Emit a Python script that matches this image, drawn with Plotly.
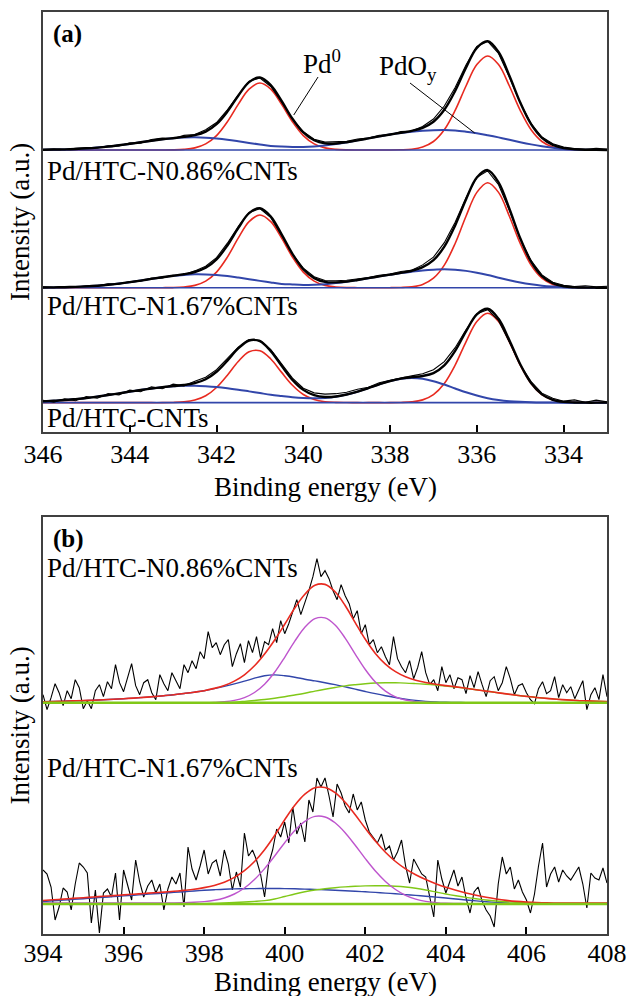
import numpy as np
import plotly.graph_objects as go

# ---------------- Panel (a): Pd 3d ----------------
a_energy = np.round(np.arange(346.0, 332.99, -0.25), 2)  # 53 points, 346 -> 333 eV

a_top_red = [0, 0, 0, 0, 0, 0, 0, 0, 0, 0, 0, 0, 0.1, 0.6, 2.1, 6.1, 14.4, 28.2, 45.6, 60.8, 67, 60.8, 45.6, 28.2,
             14.4, 6.1, 2.1, 0.6, 0.1, 0, 0, 0, 0, 0.2, 0.8, 3.0, 8.5, 20.2, 39.6, 64.0, 85.4, 94, 85.4, 64.0, 39.6,
             20.2, 8.5, 3.0, 0.8, 0.2, 0, 0, 0]
a_top_blue = [0.2, 0.4, 0.6, 1.0, 1.6, 2.4, 3.4, 4.7, 6.1, 7.7, 9.3, 10.7, 11.8, 12.5, 12.7, 12.3, 11.4, 10.2, 8.7,
              7.1, 5.5, 4.1, 3.4, 3.0, 3.1, 3.6, 4.5, 5.9, 7.7, 9.6, 11.6, 13.6, 15.5, 17.0, 18.3, 19.2, 19.8, 20.0,
              19.5, 18.3, 16.8, 14.8, 12.6, 10.2, 7.8, 5.6, 3.7, 2.2, 1.1, 0.5, 0.2, 0.1, 0]
a_top_raw = [0.5, 1.2, 0.3, 1.8, 2.5, 2.0, 4.2, 4.0, 7.3, 6.8, 10.5, 11.9, 11.2, 14.6, 15.5, 20.2, 27.5, 40.1, 55.0,
             68.8, 72.0, 63.5, 47.8, 31.0, 18.2, 10.8, 7.9, 8.2, 8.6, 11.0, 11.9, 14.8, 15.2, 18.4, 19.0, 23.5, 31.0,
             44.0, 62.5, 85.0, 103.5, 108.5, 96.5, 72.8, 47.0, 26.5, 13.0, 6.2, 2.9, 1.5, 0.8, 1.6, 0.9]

a_mid_red = [0, 0, 0, 0, 0, 0, 0, 0, 0, 0, 0, 0, 0.1, 0.7, 2.3, 6.6, 15.6, 30.6, 49.5, 66.0, 72.7, 66.0, 49.5, 30.6,
             15.6, 6.6, 2.3, 0.7, 0.1, 0, 0, 0, 0, 0.2, 0.9, 3.3, 9.5, 22.6, 44.2, 71.5, 95.3, 105, 95.3, 71.5, 44.2,
             22.6, 9.5, 3.3, 0.9, 0.2, 0, 0, 0]
a_mid_blue = [0.2, 0.3, 0.5, 0.8, 1.3, 2.0, 2.9, 4.1, 5.5, 7.1, 8.8, 10.4, 11.8, 12.8, 13.4, 13.3, 12.7, 11.6, 10.1,
              8.5, 6.8, 5.2, 3.8, 3.2, 2.8, 3.0, 3.5, 4.6, 6.0, 7.7, 9.5, 11.3, 13.0, 14.6, 16.0, 17.2, 18.0, 18.4,
              18.0, 16.8, 14.9, 12.6, 10.0, 7.5, 5.2, 3.4, 2.0, 1.1, 0.5, 0.2, 0.1, 0, 0]
a_mid_raw = [0.8, 0.1, 1.2, 0.5, 2.0, 1.6, 3.8, 3.5, 6.2, 6.5, 9.6, 9.8, 12.5, 13.0, 16.8, 21.5, 30.0, 44.5, 61.0,
             75.2, 79.0, 70.0, 52.0, 33.5, 19.5, 11.0, 7.2, 6.9, 7.5, 9.0, 10.2, 12.5, 13.6, 16.2, 17.5, 22.8, 30.5,
             45.0, 65.5, 90.0, 110.5, 116.8, 103.0, 77.5, 49.0, 27.0, 12.8, 5.5, 2.5, 1.2, 2.0, 0.8, 1.5]

a_bot_red = [0, 0, 0, 0, 0, 0, 0, 0, 0, 0, 0, 0, 0.2, 0.8, 2.6, 6.9, 15.2, 27.5, 41.2, 50.9, 51.9, 43.7, 30.3, 17.4,
             8.2, 3.2, 1.0, 0.3, 0.1, 0, 0, 0, 0, 0.2, 0.8, 2.8, 8.1, 19.2, 37.6, 60.9, 81.2, 89.4, 81.2, 60.9, 37.6,
             19.2, 8.1, 2.8, 0.8, 0.2, 0, 0, 0]
a_bot_blue = [1.3, 1.9, 2.6, 3.6, 4.7, 6.1, 7.6, 9.3, 11.0, 12.7, 14.2, 15.5, 16.4, 16.9, 17.0, 16.5, 15.7, 14.5,
              13.0, 11.3, 9.6, 7.9, 6.6, 5.4, 4.6, 4.3, 4.7, 5.9, 8.1, 11.0, 14.6, 18.3, 21.6, 23.9, 24.7, 23.9,
              21.5, 18.1, 14.2, 10.4, 7.1, 4.5, 2.7, 1.5, 0.8, 0.4, 0.2, 0.1, 0, 0, 0, 0, 0]
a_bot_raw = [2.5, 0.5, 3.8, 1.9, 6.0, 4.5, 9.0, 7.8, 12.5, 11.0, 15.8, 14.0, 18.5, 16.8, 21.5, 25.5, 33.0, 44.5,
             55.5, 63.0, 62.5, 53.0, 38.5, 24.5, 14.5, 9.8, 8.5, 9.0, 10.5, 13.5, 15.5, 20.0, 22.5, 25.0, 26.8,
             29.0, 33.0, 41.0, 55.0, 73.0, 89.0, 93.0, 82.0, 60.5, 38.0, 21.0, 9.5, 4.5, 1.5, 2.8, 0.5, 2.5, 0.8]

a_labels = ["Pd/HTC-N0.86%CNTs", "Pd/HTC-N1.67%CNTs", "Pd/HTC-CNTs"]
a_ticks = [346, 344, 342, 340, 338, 336, 334]

# ---------------- Panel (b): N 1s ----------------
b_fit_energy = np.round(np.arange(394.0, 408.01, 0.25), 2)   # 57 points
b_raw_energy = np.round(np.arange(394.0, 408.001, 0.1), 2)   # 141 points

b_top_raw = [8, -7, 5, 19, 10, -3, 12, 4, 23, 15,
             -6, 2, -6, 12, 18, 6, 21, 14, 38, 20,
             11, 26, 39, 17, 8, 20, 23, 10, 3, 28,
             19, 12, 30, 22, 14, 38, 30, 42, 34, 51,
             44, 71, 55, 60, 48, 58, 63, 36, 49, 59,
             40, 62, 50, 66, 45, 61, 58, 74, 60, 82,
             69, 79, 92, 103, 88, 99, 112, 126, 144, 126,
             132, 124, 112, 103, 118, 107, 99, 84, 92, 69,
             78, 58, 63, 50, 56, 46, 38, 66, 44, 36,
             30, 42, 24, 35, 51, 30, 18, 23, 12, 36,
             20, 28, 14, 25, 23, 9, 27, 15, 31, 18,
             6, 22, 26, 12, 20, 36, 24, 8, 17, 19,
             10, 3, -1, 14, 21, 9, 12, 26, 5, 18,
             10, 16, 4, 13, 22, -7, 8, 15, 3, 28,
             6]
b_top_mag = [0, 0, 0, 0, 0, 0, 0, 0, 0, 0, 0, 0, 0, 0, 0, 0, 0, 0.3, 0.9, 2.3, 5.1, 10.2, 18.5, 30.4, 45.4, 61.5,
             75.4, 84.0, 84.8, 77.7, 64.6, 48.6, 33.2, 20.6, 11.6, 5.9, 2.7, 1.1, 0.4, 0.1, 0, 0, 0, 0, 0, 0, 0, 0, 0,
             0, 0, 0, 0, 0, 0, 0, 0]
b_top_blue = [1.0, 1.2, 1.5, 1.8, 2.1, 2.5, 2.9, 3.4, 4.0, 4.6, 5.3, 6.1, 7.0, 8.0, 9.2, 10.5, 12.0, 14.0, 16.3,
              18.8, 21.5, 24.5, 27.0, 27.8, 27.0, 25.5, 23.5, 21.8, 20.0, 18.0, 15.8, 13.5, 11.2, 9.0, 7.0, 5.2, 3.6,
              2.3, 1.3, 0.7, 0.4, 0.2, 0.1, 0, 0, 0, 0, 0, 0, 0, 0, 0, 0, 0, 0, 0, 0]
b_top_green = [0, 0, 0, 0, 0, 0, 0, 0, 0, 0, 0, 0, 0, 0, 0, 0, 0, 0, 0, 0.5, 1.3, 2.2, 3.2, 4.5, 6.0, 7.7, 9.5, 11.6,
               13.5, 15.2, 16.8, 18.0, 19.0, 19.7, 20.0, 19.9, 19.6, 19.1, 18.5, 17.7, 16.7, 15.6, 14.4, 13.0, 11.6,
               10.2, 8.8, 7.5, 6.3, 5.2, 4.3, 3.5, 2.8, 2.2, 1.8, 1.4, 1.1]

b_bot_raw = [34, 30, 17, -16, -3, 16, 12, -6, 20, 41,
             37, 31, -19, 14, -29, 11, 15, 7, 31, -16,
             34, 18, 4, 44, 22, 7, 18, 24, 11, 20,
             -6, 15, 27, 20, 31, -3, 57, 35, 24, 38,
             54, 30, 41, 44, 28, 54, 40, 14, 32, 17,
             71, 48, 54, 44, 30, 7, 40, 54, 75, 67,
             82, 61, 97, 70, 81, 62, 104, 92, 126, 117,
             126, 108, 87, 120, 111, 98, 91, 110, 94, 102,
             84, 72, 67, 61, 70, 54, 58, 44, 52, 64,
             38, 21, 45, 37, 30, 27, 8, -13, 44, 25,
             11, 22, 34, 18, 27, 6, -9, 12, 17, 3,
             -6, -12, -23, 20, 47, 30, 37, 15, 24, 12,
             4, -9, 10, 38, 61, 17, 30, 37, 22, 34,
             28, 24, 31, 37, 20, -4, 31, 26, 24, 36,
             21]
b_bot_mag = [1.0, 1.0, 1.0, 1.0, 1.0, 1.0, 1.0, 1.0, 1.0, 1.0, 1.0, 1.0, 1.0, 1.1, 1.3, 1.7, 2.4, 3.7, 6.0, 10.0,
             16.0, 24.5, 35.4, 48.0, 61.3, 73.5, 82.7, 87.6, 87.0, 81.2, 71.3, 58.7, 45.4, 33.0, 22.6, 14.5, 8.7,
             4.9, 2.6, 1.4, 0.7, 0.5, 0.4, 0.4, 0.4, 0.4, 0.4, 0.4, 0.4, 0.4, 0.4, 0.4, 0.4, 0.4, 0.4, 0.4, 0.4]
b_bot_blue = [2.5, 3.2, 3.9, 4.6, 5.3, 6.0, 6.7, 7.4, 8.1, 8.8, 9.5, 10.2, 10.9, 11.6, 12.3, 13.0, 13.7, 14.3, 14.8,
              15.1, 15.3, 15.4, 15.5, 15.5, 15.4, 15.2, 14.9, 14.6, 14.2, 13.8, 13.3, 12.8, 12.2, 11.6, 10.9, 10.2,
              9.4, 8.6, 7.8, 6.9, 6.0, 5.0, 4.0, 3.1, 2.3, 1.6, 1.0, 0.6, 0.3, 0.1, 0, 0, 0, 0, 0, 0, 0]
b_bot_green = [0, 0, 0, 0, 0, 0, 0, 0, 0, 0, 0, 0, 0, 0, 0, 0, 0.3, 0.6, 1.0, 1.5, 2.0, 2.6, 3.4, 5.0, 7.5, 10.0,
               12.2, 14.0, 15.3, 16.3, 17.1, 17.7, 18.1, 18.3, 18.2, 17.8, 17.0, 15.7, 14.0, 12.0, 10.0, 8.2, 6.6,
               5.2, 4.0, 3.0, 2.2, 1.6, 1.2, 0.9, 0.7, 0.6, 0.5, 0.5, 0.5, 0.5, 0.5]

b_labels = ["Pd/HTC-N0.86%CNTs", "Pd/HTC-N1.67%CNTs"]
b_ticks = [394, 396, 398, 400, 402, 404, 406, 408]

# ---------------- styling / layout constants ----------------
A_OFFSETS = [282.0, 144.3, 29.3]      # vertical stacking of the three Pd 3d spectra
B_OFFSETS = [231.3, 30.0]             # vertical stacking of the two N 1s spectra
RED = "rgb(232,42,32)"
BLUE = "rgb(50,70,170)"
MAG = "rgb(190,85,205)"
GREEN = "rgb(128,200,24)"
FONT = "Liberation Serif, Times New Roman, serif"

fig = go.Figure()


def add(x, y, color, width, xa, ya, shape="linear"):
    fig.add_trace(go.Scatter(x=list(x), y=list(y), mode="lines",
                             line=dict(color=color, width=width, shape=shape),
                             xaxis=xa, yaxis=ya, showlegend=False, hoverinfo="skip"))


a_sets = [(a_top_red, a_top_blue, a_top_raw), (a_mid_red, a_mid_blue, a_mid_raw), (a_bot_red, a_bot_blue, a_bot_raw)]
for off, (red, blue, raw) in zip(A_OFFSETS, a_sets):
    red = np.array(red, float)
    blue = np.array(blue, float)
    raw = np.array(raw, float)
    add(a_energy, off + red, RED, 1.6, "x", "y", "spline")
    add(a_energy, off + blue, BLUE, 2.0, "x", "y", "spline")
    add([a_energy[0], a_energy[-1]], [off, off], BLUE, 1.6, "x", "y")
    add(a_energy, off + raw, "black", 1.1, "x", "y")
    add(a_energy, off + red + blue, "black", 2.4, "x", "y", "spline")

b_sets = [(b_top_raw, b_top_mag, b_top_blue, b_top_green), (b_bot_raw, b_bot_mag, b_bot_blue, b_bot_green)]
for off, (raw, mag, blue, green) in zip(B_OFFSETS, b_sets):
    raw = np.array(raw, float)
    mag = np.array(mag, float)
    blue = np.array(blue, float)
    green = np.array(green, float)
    add(b_raw_energy, off + raw, "black", 1.1, "x2", "y2")
    add(b_fit_energy, off + blue, BLUE, 1.4, "x2", "y2", "spline")
    add(b_fit_energy, off + green, GREEN, 1.4, "x2", "y2", "spline")
    add(b_fit_energy, off + mag, MAG, 1.4, "x2", "y2", "spline")
    add(b_fit_energy, off + mag + blue + green, RED, 1.6, "x2", "y2", "spline")
    add([b_fit_energy[0], b_fit_energy[-1]], [off, off], GREEN, 2.4, "x2", "y2")

axis_common = dict(showline=True, mirror=True, linecolor="#404040", linewidth=2,
                   showgrid=False, zeroline=False, automargin=False)
xcommon = dict(axis_common, ticks="inside", ticklen=7, tickwidth=1.5, tickcolor="black",
               tickfont=dict(family=FONT, size=26, color="black"))
ycommon = dict(axis_common, showticklabels=False, ticks="")

fig.update_layout(
    width=629, height=996, autosize=False,
    margin=dict(l=43, r=22, t=12, b=62, autoexpand=False),
    paper_bgcolor="white", plot_bgcolor="white",
    font=dict(family=FONT, color="black"),
    xaxis=dict(xcommon, domain=[0, 1], anchor="y", range=[346, 333], tickvals=a_ticks, ticklabelstandoff=-2),
    yaxis=dict(ycommon, domain=[0.5445, 1.0], anchor="x", range=[0, 420]),
    xaxis2=dict(xcommon, domain=[0, 1], anchor="y2", range=[394, 408], tickvals=b_ticks, ticklabelstandoff=-5),
    yaxis2=dict(ycommon, domain=[0, 0.4523], anchor="x2", range=[0, 417]),
)

ann = []
lab = dict(family=FONT, size=27, color="black")
# panel letters
ann.append(dict(text="<b>(a)</b>", xref="x domain", yref="y domain", x=0.014, y=0.948, xanchor="left",
                yanchor="middle", showarrow=False, font=dict(family=FONT, size=25, color="black")))
ann.append(dict(text="<b>(b)</b>", xref="x2 domain", yref="y2 domain", x=0.014, y=0.947, xanchor="left",
                yanchor="middle", showarrow=False, font=dict(family=FONT, size=25, color="black")))
# sample labels
for txt, yy in zip(a_labels, [0.621, 0.299, 0.033]):
    ann.append(dict(text=txt, xref="x domain", yref="y domain", x=0.004, y=yy, xanchor="left",
                    yanchor="middle", showarrow=False, font=lab))
for txt, yy in zip(b_labels, [0.878, 0.398]):
    ann.append(dict(text=txt, xref="x2 domain", yref="y2 domain", x=0.004, y=yy, xanchor="left",
                    yanchor="middle", showarrow=False, font=lab))
# peak labels
ann.append(dict(text="Pd<sup>0</sup>", xref="x", yref="y", x=339.57, y=370, showarrow=False, font=lab))
ann.append(dict(text="PdO<sub>y</sub>", xref="x", yref="y", x=337.59, y=364, showarrow=False, font=lab))
# axis titles
ann.append(dict(text="Binding energy (eV)", xref="x domain", yref="y domain", x=0.5, y=0, yshift=-55,
                xanchor="center", yanchor="middle", showarrow=False, font=lab))
ann.append(dict(text="Binding energy (eV)", xref="x2 domain", yref="y2 domain", x=0.5, y=0, yshift=-48,
                xanchor="center", yanchor="middle", showarrow=False, font=lab))
for yd in ["y domain", "y2 domain"]:
    ann.append(dict(text="Intensity (a.u.)", xref="paper", yref=yd, x=-23 / 564, y=0.5, textangle=-90,
                    xanchor="center", yanchor="middle", showarrow=False, font=lab))
fig.update_layout(annotations=ann)

fig.add_shape(type="line", xref="x", yref="y", x0=339.66, y0=355, x1=340.22, y1=317,
              line=dict(color="black", width=1))
fig.add_shape(type="line", xref="x", yref="y", x0=337.54, y0=349, x1=336.05, y1=299,
              line=dict(color="black", width=1))

fig.write_html("out.html", config={"displayModeBar": False, "responsive": False},
               post_script="document.body.style.margin='0px';document.body.style.padding='0px';"
                           "document.body.style.overflow='hidden';")
